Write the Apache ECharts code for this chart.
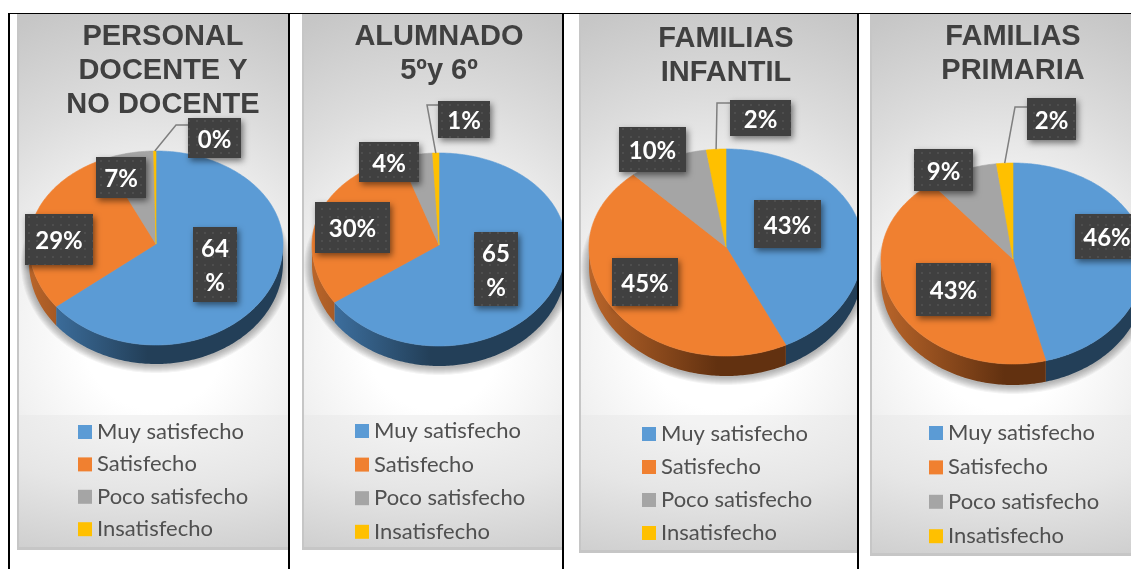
<!DOCTYPE html>
<html>
<head>
<meta charset="utf-8">
<title>Satisfacción</title>
<script src="https://cdn.jsdelivr.net/npm/echarts@6/dist/echarts.min.js"></script>
<style>
html, body { margin: 0; padding: 0; background: #fff; overflow: hidden; }
#page { position: relative; width: 1131px; height: 569px; overflow: hidden; }
.rule { position: absolute; background: #000; }
.panel { position: absolute; box-sizing: border-box; border-left: 2px solid #c6c6c6; border-bottom: 3px solid #c6c6c6; overflow: hidden; }
.panelTop, .panelBot { position: absolute; left: 0; right: 0; }
.panelTop { top: 0; background: radial-gradient(ellipse 120% 85% at 50% 80%, #fff 22%, #f1f1f1 45%, #dcdcdc 70%, #c6c6c6 100%); }
.panelBot { bottom: 0; background: radial-gradient(ellipse 130% 120% at 50% -10%, #f3f3f3 15%, #e6e6e6 55%, #cfcfcf 100%); }
</style>
</head>
<body>
<div id="page"></div>
<script>
var categories = ["Muy satisfecho", "Satisfecho", "Poco satisfecho", "Insatisfecho"];
var titles = ["PERSONAL\nDOCENTE Y\nNO DOCENTE", "ALUMNADO\n5ºy 6º", "FAMILIAS\nINFANTIL", "FAMILIAS\nPRIMARIA"];
var personalValues = [64.4, 28.8, 6.5, 0.3];
var alumnadoValues = [65.4, 29.6, 4.2, 0.8];
var infantilValues = [42.8, 45.4, 9.5, 2.3];
var primariaValues = [46, 43.4, 8.6, 2];

var topColors = ["#5B9BD5", "#F08030", "#A5A5A5", "#FFC000"];
var wallLight = ["#4279AD", "#B9652A", "#858585", "#C79500"];
var wallDark = ["#233F58", "#623110", "#555555", "#7F6000"];

// posiciones en px de pagina
var panels = [
  {
    values: personalValues, x: 17, w: 273, bottom: 550, titleX: 158, titleY: 15,
    cx: 156, cy: 244, rx: 127, ryUp: 93, ryDown: 101, depth: 19,
    legendX: 78, legendY: 421, legendStep: 32.4,
    boxes: [[193, 227, 44, 75, 1], [25, 214, 68, 51], [96, 157, 50, 41], [188, 118, 53, 40]],
    elbow: [[176, 125], [188, 125]],
  },
  {
    values: alumnadoValues, x: 302, w: 261, bottom: 550, titleX: 434, titleY: 15,
    cx: 439, cy: 245, rx: 127, ryUp: 92, ryDown: 101, depth: 20,
    legendX: 355, legendY: 420, legendStep: 33.6,
    boxes: [[474, 232, 44, 74, 1], [315, 202, 75, 51], [359, 142, 60, 40], [438, 101, 52, 37]],
    elbow: [[427, 105], [438, 105]],
  },
  {
    values: infantilValues, x: 579, w: 279, bottom: 553, titleX: 721, titleY: 17,
    cx: 726, cy: 247, rx: 137, ryUp: 98, ryDown: 109, depth: 20,
    legendX: 642, legendY: 423, legendStep: 33,
    boxes: [[754, 200, 67, 48], [612, 258, 66, 48], [619, 127, 67, 45], [730, 100, 61, 36]],
    elbow: [[717, 103], [730, 103]],
  },
  {
    values: primariaValues, x: 870, w: 261, bottom: 556, titleX: 1008, titleY: 15,
    cx: 1013, cy: 259, rx: 132, ryUp: 96, ryDown: 105, depth: 21,
    legendX: 929, legendY: 422, legendStep: 34.4,
    boxes: [[1075, 214, 64, 45], [916, 263, 75, 53], [914, 149, 59, 42], [1027, 98, 49, 42]],
    elbow: [[1015, 107], [1027, 107]],
  },
];

var TOP_Y = 13;
var SPLIT_Y = 415;
var SHADOW_STEPS = 8;

function makeDotPattern() {
  var c = document.createElement("canvas");
  c.width = 8;
  c.height = 8;
  var ctx = c.getContext("2d");
  ctx.fillStyle = "#404040";
  ctx.fillRect(0, 0, 8, 8);
  ctx.fillStyle = "#4e4e4e";
  ctx.fillRect(3, 3, 2, 2);
  return c;
}
var dotPattern = makeDotPattern();

function addRule(page, x, y, w, h) {
  var d = document.createElement("div");
  d.className = "rule";
  d.style.cssText = "left:" + x + "px;top:" + y + "px;width:" + w + "px;height:" + h + "px";
  page.appendChild(d);
}

function pieSeries(p) {
  var cx = p.cx - p.x;
  var cy = p.cy - TOP_Y;
  var total = p.values.reduce(function (a, b) { return a + b; }, 0);

  function point(t, dy, grow) {
    var up = Math.cos(t);
    var g = grow || 0;
    return [
      cx + (p.rx + g) * Math.sin(t),
      cy - ((up > 0 ? p.ryUp : p.ryDown) + g) * up + (dy || 0),
    ];
  }
  function arc(a, b, dy, grow) {
    var pts = [];
    var n = Math.max(2, Math.ceil((b - a) / 0.015));
    for (var i = 0; i <= n; i++) pts.push(point(a + ((b - a) * i) / n, dy, grow));
    return pts;
  }

  return categories.map(function (name, idx) {
    return {
      name: name,
      type: "custom",
      coordinateSystem: "none",
      color: topColors[idx],
      itemStyle: { color: topColors[idx] },
      animation: false,
      silent: true,
      data: [[p.values[idx]]],
      renderItem: function (params, api) {
        var before = 0;
        for (var i = 0; i < idx; i++) before += p.values[i];
        var a = (before / total) * Math.PI * 2;
        var b = ((before + api.value(0)) / total) * Math.PI * 2;
        var children = [];

        // sombra de la tarta: varias capas transparentes, una sola vez
        if (idx === 0) {
          for (var s = SHADOW_STEPS; s >= 1; s--) {
            children.push({
              type: "polygon",
              z2: 0,
              shape: { points: arc(0, Math.PI * 2, p.depth + 1, s) },
              style: { fill: "rgba(0,0,0,0.045)" },
            });
          }
        }

        // pared lateral, solo la mitad de delante
        var wa = Math.max(a, Math.PI / 2);
        var wb = Math.min(b, (Math.PI * 3) / 2);
        if (wb > wa) {
          var wall = arc(wa, wb, 0).concat(arc(wa, wb, p.depth).reverse());
          children.push({
            type: "polygon",
            z2: 1,
            shape: { points: wall },
            style: {
              fill: {
                type: "linear", global: true, x: cx - p.rx, y: 0, x2: cx + p.rx * 0.1, y2: 0,
                colorStops: [
                  { offset: 0, color: wallLight[idx] },
                  { offset: 0.85, color: wallDark[idx] },
                  { offset: 1, color: wallDark[idx] },
                ],
              },
            },
          });
        }

        var face = [[cx, cy]].concat(arc(a, b, 0));
        children.push({
          type: "polygon",
          z2: 2,
          shape: { points: face },
          style: { fill: topColors[idx], stroke: topColors[idx], lineWidth: 0.6 },
        });

        // etiqueta
        var box = p.boxes[idx];
        var bx = box[0] - p.x;
        var by = box[1] - TOP_Y;
        var shown = Math.round(api.value(0));
        if (idx === 3) {
          var anchor = point((a + b) / 2, 0);
          children.push({
            type: "polyline",
            z2: 3,
            shape: {
              points: [anchor].concat(p.elbow.map(function (e) { return [e[0] - p.x, e[1] - TOP_Y]; })),
            },
            style: { fill: null, stroke: "#7f7f7f", lineWidth: 1.5 },
          });
        }
        children.push({
          type: "rect",
          z2: 4,
          shape: { x: bx, y: by, width: box[2], height: box[3] },
          style: {
            fill: { image: dotPattern, repeat: "repeat" },
            shadowBlur: 6, shadowColor: "rgba(0,0,0,0.5)", shadowOffsetX: 2, shadowOffsetY: 3,
          },
        });
        children.push({
          type: "text",
          z2: 5,
          style: {
            x: bx + box[2] / 2,
            y: by + box[3] / 2 + 2,
            text: box[4] ? shown + "\n%" : shown + "%",
            align: "center",
            verticalAlign: "middle",
            fill: "#fff",
            fontFamily: "Lato",
            fontWeight: "bold",
            fontSize: 24,
            lineHeight: 34,
          },
        });
        return { type: "group", children: children };
      },
    };
  });
}

function initPanel(page, p, i) {
  var wrap = document.createElement("div");
  wrap.className = "panel";
  var height = p.bottom - TOP_Y;
  wrap.style.cssText = "left:" + p.x + "px;top:" + TOP_Y + "px;width:" + p.w + "px;height:" + height + "px";
  var top = document.createElement("div");
  top.className = "panelTop";
  top.style.height = SPLIT_Y - TOP_Y + "px";
  var bot = document.createElement("div");
  bot.className = "panelBot";
  bot.style.top = SPLIT_Y - TOP_Y + "px";
  wrap.appendChild(top);
  wrap.appendChild(bot);
  page.appendChild(wrap);

  // va encima del borde para no descuadrar las coordenadas
  var chartDom = document.createElement("div");
  chartDom.style.cssText = "position:absolute;left:" + p.x + "px;top:" + TOP_Y + "px;width:" + p.w + "px;height:" + (height - 3) + "px";
  page.appendChild(chartDom);

  var myChart = echarts.init(chartDom, null, { renderer: "canvas" });
  myChart.setOption({
    animation: false,
    title: {
      text: titles[i],
      left: p.titleX - p.x,
      top: p.titleY - TOP_Y,
      textAlign: "center",
      textStyle: {
        color: "#404040",
        fontFamily: "Liberation Sans",
        fontWeight: "bold",
        fontSize: 29,
        lineHeight: 34,
      },
    },
    legend: {
      orient: "vertical",
      left: p.legendX - p.x,
      top: p.legendY - TOP_Y,
      padding: 0,
      icon: "rect",
      itemWidth: 14,
      itemHeight: 14,
      itemGap: p.legendStep - 22,
      data: categories,
      selectedMode: false,
      textStyle: { color: "#505050", fontFamily: "Lato", fontSize: 22, lineHeight: 22 },
    },
    series: pieSeries(p),
  });
}

var page = document.getElementById("page");
panels.forEach(function (p, i) { initPanel(page, p, i); });

// lineas de la tabla
addRule(page, 8, 13, 1123, 1);
addRule(page, 8, 13, 2, 556);
addRule(page, 288, 13, 2, 556);
addRule(page, 562, 13, 2, 556);
addRule(page, 857, 13, 2, 556);
</script>
</body>
</html>
